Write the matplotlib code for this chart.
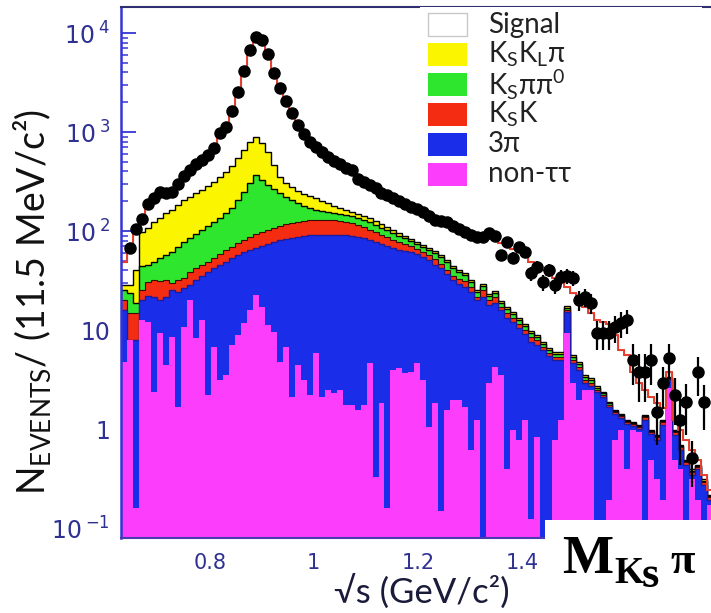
import numpy as np
import matplotlib
matplotlib.use("Agg")
import matplotlib.pyplot as plt
from matplotlib.patches import Rectangle
from matplotlib import font_manager

plt.rcParams['font.family'] = ['Lato', 'DejaVu Sans']
plt.rcParams['mathtext.fontset'] = 'dejavusans'

nan = np.nan

# ---------------- binning ----------------
x_low = 0.63        # GeV/c^2
bin_width = 0.0115  # 11.5 MeV/c^2
n_bins = 99

# ---------------- data (events per bin) ----------------
data = [nan, 67.3, 104.7, 132, 187.5, 215, 248, 242, 248, 298,
        359, 413, 475, 521, 586, 689, 977, 1125, 1630, 2535,
        4130, 6730, 9120, 8500, 6140, 3945, 2782, 2057, 1556, 1178,
        955, 792, 705, 628, 559, 510, 475, 433, 413, 335,
        313, 292, 272, 242, 231, 215, 201, 187.5, 175, 167,
        156, 142, 129, 126, 123, 112, 104.7, 97.7, 91.2, 87,
        87, 95.5, 89, 57.3, 77.4, 53.4, 68.9, 61.4, 37.7, 43.3,
        30.5, 40.4, 28.5, 34.3, 35.1, 33.5, 20.1, 21.5, 18.7, 9.3,
        9.3, 9.3, 10.7, 11.8, 12.6, 4.98, 3.76, 3.76, 4.98, 1.49,
        2.9, 5.2, 2.2, 1.23, 1.87, 0.51, 3.76, 1.87, nan]

data_err = [0, 8.2, 10.2, 11.5, 13.7, 14.7, 15.7, 15.6, 15.7, 17.3,
            19, 20, 22, 23, 24, 26, 31, 34, 40, 50,
            64, 82, 95, 92, 78, 63, 53, 45, 39, 34,
            31, 28, 27, 25, 24, 23, 22, 21, 20, 18,
            18, 17, 16.5, 15.6, 15.2, 14.7, 14.2, 13.7, 13.2, 12.9,
            12.5, 11.9, 11.4, 11.2, 11.1, 10.6, 10.2, 9.9, 9.5, 9.3,
            9.3, 9.8, 9.4, 7.6, 8.8, 7.3, 8.3, 7.8, 6.1, 6.6,
            5.5, 6.4, 5.3, 5.9, 5.9, 5.8, 4.5, 4.6, 4.3, 3.0,
            3.0, 3.0, 3.3, 3.4, 3.5, 2.2, 1.9, 1.9, 2.2, 0.8,
            1.3, 2.0, 1.1, 0.8, 1.0, 0.25, 1.6, 0.9, 0]

# ---------------- MC stack (cumulative heights per bin) ----------------
# signal + all backgrounds
total_mc = [48.6, 64.3, 97.7, 129, 175, 211, 236, 248, 266, 298,
            351, 404, 464, 521, 600, 722, 912, 1151, 1592, 2477,
            4036, 6430, 8700, 8500, 5998, 3945, 2782, 2057, 1556, 1205,
            955, 811, 705, 628, 559, 510, 464, 433, 394, 351,
            320, 292, 266, 248, 231, 215, 201, 187.5, 175, 163,
            152, 142, 132, 123, 118, 110, 102, 97.7, 93.3, 89,
            87, 85, 81.2, 75.6, 70.5, 65.8, 64.3, 55.9, 48.6, 44.3,
            40.4, 35.9, 33.5, 30.5, 27.2, 23.6, 20.1, 17.1, 14.9, 12.6,
            12.0, 11.5, 8.9, 6.28, 5.59, 3.76, 2.9, 2.48, 2.10, 1.83,
            1.63, 3.76, 1.23, 0.98, 0.78, 0.62, 0.49, 0.34, 0.24]
# non-tautau + 3pi + KsK + Kspipi0 + KsKLpi
stack_kskl = [28.5, 28.5, 40.4, 97.7, 107, 123, 135, 152, 163, 183,
              206, 220, 242, 259, 285, 313, 351, 394, 454, 546,
              658, 792, 890, 774, 628, 464, 351, 305, 278, 254,
              236, 226, 215, 201, 192, 179, 171, 163, 156, 149,
              142, 135, 126, 118, 110, 102, 95.5, 89, 83, 77.4,
              72.2, 67.3, 62.8, 57.3, 50.9, 44.3, 40.4, 37.7, 32, 25.4,
              29.1, 23.1, 24.8, 19.6, 17.1, 15.2, 13.2, 11.5, 9.77, 8.9,
              7.57, 6.58, 6.0, 6.0, 17.5, 5.59, 4.75, 3.51, 3.27, 2.72,
              2.36, 1.87, 1.56, 1.42, 1.23, 1.18, 1.10, 1.38, 0.98, 0.87,
              1.23, 3.35, 0.98, 0.69, 0.49, 0.39, 0.43, 0.31, 0.215]
# non-tautau + 3pi + KsK + Kspipi0
stack_kspipi0 = [25.4, 23.6, 18.7, 44.3, 45.4, 48.6, 53.4, 57.3, 61.4, 68.9,
                 77.4, 85, 93.3, 102, 112, 123, 135, 152, 171, 206,
                 248, 305, 368, 327, 292, 266, 242, 220, 206, 192,
                 179, 171, 163, 159, 156, 152, 149, 145, 142, 135,
                 129, 123, 115, 107, 102, 95.5, 89, 85, 79.3, 73.9,
                 68.9, 64.3, 60.0, 54.6, 48.6, 42.3, 38.5, 35.9, 30.5, 24.2,
                 27.8, 22.0, 23.6, 18.7, 16.3, 14.5, 12.6, 11.0, 9.3, 8.5,
                 7.22, 6.28, 5.72, 5.72, 16.7, 5.34, 4.54, 3.35, 3.12, 2.6,
                 2.31, 1.83, 1.52, 1.38, 1.2, 1.15, 1.07, 1.35, 0.96, 0.85,
                 1.2, 3.27, 0.96, 0.67, 0.47, 0.38, 0.42, 0.30, 0.21]
# non-tautau + 3pi + KsK
stack_ksk = [20.1, 14.9, 14.9, 25.4, 30.5, 32, 31.3, 32, 29.8, 32,
             33.5, 38.5, 42.3, 45.4, 48.6, 53.4, 58.6, 64.3, 68.9, 75.6,
             81.2, 87, 93.3, 97.7, 102, 107, 112, 118, 120.5, 123,
             126, 129, 129, 129, 129, 129, 126, 123, 120.5, 115,
             110, 102, 97.7, 91.2, 87, 81.2, 77.4, 73.9, 70.5, 65.8,
             61.4, 57.3, 52.1, 46.4, 40.4, 35.1, 32.7, 31.3, 27.2, 21.5,
             25.4, 20.1, 21.5, 17.1, 14.9, 13.2, 11.5, 10, 8.5, 7.94,
             6.73, 5.86, 5.34, 5.34, 15.9, 5.0, 4.23, 3.12, 2.9, 2.48,
             2.2, 1.75, 1.49, 1.35, 1.18, 1.12, 1.05, 1.32, 0.93, 0.83,
             1.18, 3.2, 0.93, 0.66, 0.46, 0.37, 0.41, 0.29, 0.205]
# non-tautau + 3pi
stack_3pi = [15.9, 7.94, 7.94, 20.1, 22, 21.5, 20.1, 21.5, 25.4, 24.2,
             26.6, 28.5, 32, 35.1, 38.5, 42.3, 45.4, 48.6, 53.4, 57.3,
             61.4, 64.3, 67.3, 70.5, 73.9, 77.4, 81.2, 83, 85, 87,
             89, 91.2, 91.2, 91.2, 91.2, 91.2, 91.2, 91.2, 89, 87,
             85, 81.2, 77.4, 73.9, 70.5, 67.3, 64.3, 62.8, 61.4, 58.6,
             54.6, 50.9, 45.4, 42.3, 36.8, 32, 29.1, 27.2, 24.2, 20.1,
             21.5, 17.9, 18.7, 15.9, 13.2, 12.0, 10.5, 9.1, 7.57, 7.05,
             6.28, 5.46, 5.0, 5.0, 15.2, 4.64, 3.94, 2.9, 2.72, 2.36,
             2.1, 1.67, 1.42, 1.29, 1.12, 1.07, 1.0, 1.23, 0.89, 0.78,
             1.10, 3.12, 0.87, 0.62, 0.43, 0.34, 0.39, 0.27, 0.19]
# non-tautau
non_tautau = [4.75, 7.94, 0.159, 12.6, 12.0, 2.36, 9.33, 4.43, 8.5, 1.67,
              10.7, 20.1, 8.3, 12.6, 2.2, 6.73, 3.12, 3.51, 7.05, 8.9,
              11.8, 15.9, 22.6, 17.1, 11.2, 9.55, 4.75, 6.73, 2.1, 4.43,
              3.12, 2.2, 5.86, 2.1, 2.48, 2.31, 2.48, 1.75, 1.75, 1.56,
              1.75, 4.64, 0.33, 1.83, 0.159, 3.94, 4.13, 3.68, 3.76, 4.64,
              3.12, 1.05, 1.83, 0.149, 1.56, 1.96, 1.96, 1.67, 0.62, 1.23,
              0, 2.9, 4.23, 3.51, 0.39, 0.98, 0.78, 1.23, 0.123, 0.83,
              0, 0, 0.78, 1.23, 9.33, 2.9, 1.96, 2.48, 2.48, 0,
              0, 0.19, 0.78, 0.98, 0.39, 0.98, 0.93, 0, 0.49, 0.31,
              0.19, 2.6, 0.49, 0.39, 0.12, 0.31, 0.19, 0, 0.17]

legend_labels = ["Signal",
                 r"K$_\mathregular{S}$K$_\mathregular{L}$π",
                 r"K$_\mathregular{S}$ππ$^\mathregular{0}$",
                 r"K$_\mathregular{S}$K",
                 "3π",
                 "non-ττ"]
layer_colors = ["#ffffff", "#fcf500", "#2ee62e", "#f42c12", "#1a2de8", "#fc3dfc"]

ytick_vals = [0.1, 1, 10, 100, 1000, 10000]
ytick_labels = [r"10$\,^{\mathregular{-1}}$", "1", "10",
                r"10$\,^{\mathregular{2}}$", r"10$\,^{\mathregular{3}}$", r"10$\,^{\mathregular{4}}$"]
xtick_vals = [0.8, 1.0, 1.2, 1.4]
xtick_labels = ["0.8", "1", "1.2", "1.4"]

# ---------------- fonts ----------------
available = {f.name for f in font_manager.fontManager.ttflist}
if "Liberation Sans Narrow" in available:
    ylab_family, ylab_size = ["Liberation Sans Narrow", "DejaVu Sans"], 36
else:
    ylab_family, ylab_size = ["Lato", "DejaVu Sans"], 27

# ---------------- figure ----------------
W, H = 711, 613
fig = plt.figure(figsize=(W / 100, H / 100), dpi=100)
fig.patch.set_facecolor("white")
ax = fig.add_axes([121 / W, 1 - 538 / H, 1 - 121 / W, (538 - 7) / H])
ax.set_yscale("log")

edges = x_low + bin_width * np.arange(n_bins + 1)
centers = 0.5 * (edges[:-1] + edges[1:])
floor = 1e-3


def layer(vals, fc, ec, lw, z):
    v = np.clip(np.asarray(vals, dtype=float), floor, None)
    ax.stairs(v, edges, baseline=floor, fill=True, facecolor=fc,
              edgecolor=ec, linewidth=lw, zorder=z)


layer(total_mc, layer_colors[0], "black", 0.8, 1)
layer(stack_kskl, layer_colors[1], "black", 1.0, 2)
layer(stack_kspipi0, layer_colors[2], "black", 1.0, 3)
layer(stack_ksk, layer_colors[3], "#3a0a05", 0.8, 4)
layer(stack_3pi, layer_colors[4], "#1c1c9c", 1.0, 5)
layer(non_tautau, layer_colors[5], "none", 0, 6)
ax.stairs(np.asarray(total_mc), edges, baseline=None, fill=False,
          edgecolor="#e8402e", linewidth=1.4, zorder=7)

ax.errorbar(centers, data, yerr=data_err, fmt="o", color="black",
            ms=8, elinewidth=1.6, capsize=0, zorder=8)

ax.set_xlim(0.6293, 0.6293 + 590 / 520)
ax.set_ylim(10 ** (-1.101), 10 ** 4.263)

ax.set_yticks(ytick_vals)
ax.set_yticklabels(ytick_labels, family=["DejaVu Sans"])
ax.set_xticks(xtick_vals)
ax.set_xticklabels(xtick_labels, family=["DejaVu Sans"])
ax.tick_params(axis="y", which="major", direction="in", length=11, width=1.3,
               color="#3535d5", labelcolor="#2e3192", labelsize=17, pad=8)
ax.tick_params(axis="y", which="minor", direction="in", length=5, width=1.1,
               color="#3535d5")
ax.tick_params(axis="x", which="both", length=0, labelcolor="#2e3192",
               labelsize=15, pad=11)
for lab in ax.get_yticklabels() + ax.get_xticklabels():
    lab.set_zorder(20)
ax.set_axisbelow(False)

ax.spines["left"].set_color("#3535d5")
ax.spines["left"].set_linewidth(1.8)
ax.spines["bottom"].set_color("#4a3cb0")
ax.spines["bottom"].set_linewidth(1.5)
ax.spines["top"].set_color("#303070")
ax.spines["top"].set_linewidth(1.5)
ax.spines["right"].set_visible(False)
for s in ax.spines.values():
    s.set_zorder(15)


def fx(px):
    return px / W


def fy(py):
    return 1 - py / H


# axis titles
fig.text(fx(33), fy(302), "N$_{\\mathregular{EVENTS}}$/ (11.5 MeV/c²)", rotation=90,
         ha="center", va="center", fontsize=ylab_size, color="#111111",
         family=ylab_family)
fig.text(fx(422), fy(603), "√s (GeV/c²)", ha="center", va="baseline",
         fontsize=25, color="#1a1a3a")

# legend (drawn by hand)
leg_bg = Rectangle((fx(420), fy(192)), fx(282), 185 / H, transform=fig.transFigure,
                   facecolor="white", edgecolor="none", zorder=30)
fig.add_artist(leg_bg)
for i, (lab, col) in enumerate(zip(legend_labels, layer_colors)):
    yc = 24.5 + 30 * i
    ec = "#c8c8c8" if i == 0 else "none"
    r = Rectangle((fx(428), fy(yc + 11.5)), fx(39), 23 / H, transform=fig.transFigure,
                  facecolor=col, edgecolor=ec, linewidth=1.0, zorder=31)
    fig.add_artist(r)
    fig.text(fx(488), fy(yc), lab, ha="left", va="center", fontsize=20,
             color="#222222", zorder=32)

# channel label box
box = Rectangle((fx(545), 0), 1 - fx(545), 93 / H, transform=fig.transFigure,
                facecolor="white", edgecolor="none", zorder=30)
fig.add_artist(box)
serif = dict(family="Liberation Serif", weight="bold", color="black", zorder=32)
fig.text(fx(562), fy(573), "M", ha="left", va="baseline", fontsize=39, **serif)
fig.text(fx(614), fy(583), "K", ha="left", va="baseline", fontsize=27, **serif)
fig.text(fx(642), fy(587), "s", ha="left", va="baseline", fontsize=32, **serif)
fig.text(fx(670), fy(573), "π", ha="left", va="baseline", fontsize=32, **serif)

fig.savefig("out.png", dpi=100, facecolor="white")
